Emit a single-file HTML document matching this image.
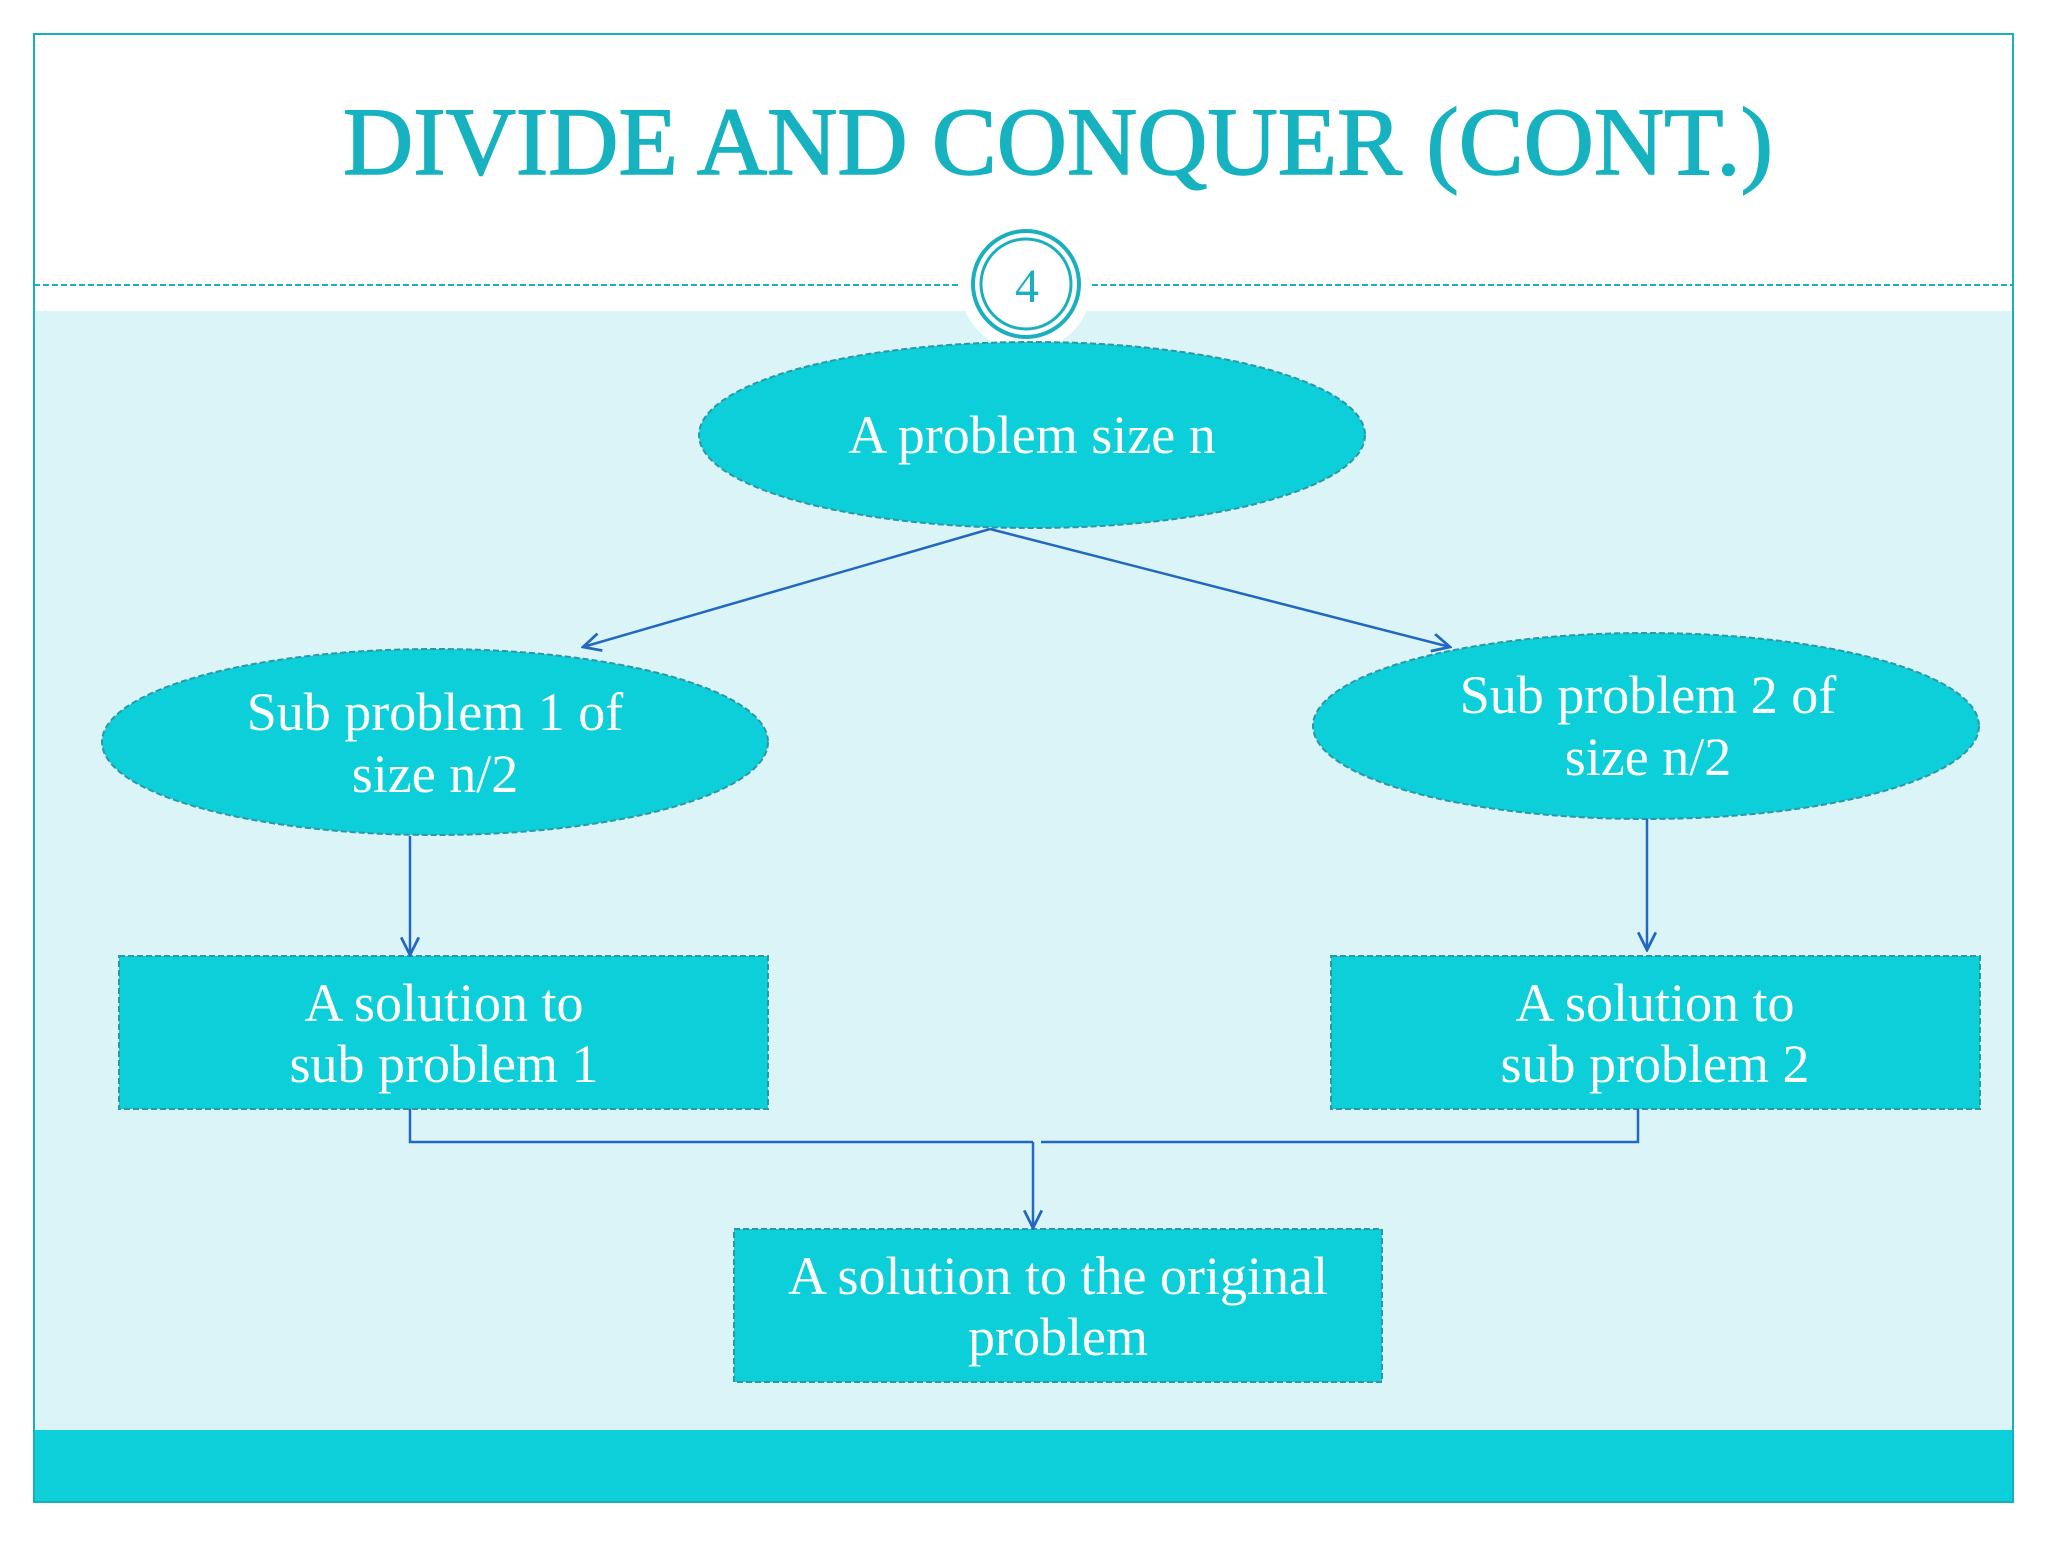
<!DOCTYPE html>
<html><head><meta charset="utf-8"><style>
html,body{margin:0;padding:0;background:#fff;}
body{width:2048px;height:1536px;overflow:hidden;}
</style></head><body>
<svg width="2048" height="1536" viewBox="0 0 2048 1536" xmlns="http://www.w3.org/2000/svg" font-family="'Liberation Serif', serif">
<defs>
<marker id="ah" viewBox="0 0 20 20" refX="18" refY="10" markerWidth="22" markerHeight="22" markerUnits="userSpaceOnUse" orient="auto">
<path d="M2,2 L18,10 L2,18" fill="none" stroke="#2268c0" stroke-width="2.5"/>
</marker>
</defs>
<rect x="0" y="0" width="2048" height="1536" fill="#fff"/>
<rect x="34" y="311" width="1979" height="1119" fill="#dbf4f8"/>
<rect x="34" y="1430" width="1979" height="72" fill="#0ccfd9"/>
<rect x="34" y="34" width="1979" height="1468" fill="none" stroke="#1aafbf" stroke-width="2"/>
<text x="1058" y="174" text-anchor="middle" font-size="96" fill="#17b2bf" stroke="#17b2bf" stroke-width="1.5" textLength="1430" lengthAdjust="spacingAndGlyphs">DIVIDE AND CONQUER (CONT.)</text>
<line x1="34" y1="285" x2="960" y2="285" stroke="#1aafbf" stroke-width="2" stroke-dasharray="6,3"/>
<line x1="1092" y1="285" x2="2013" y2="285" stroke="#1aafbf" stroke-width="2" stroke-dasharray="6,3"/>
<circle cx="1026" cy="285" r="66" fill="#fff"/>
<circle cx="1026" cy="284" r="53" fill="none" stroke="#1aafbf" stroke-width="4"/>
<circle cx="1026" cy="284" r="45" fill="none" stroke="#1aafbf" stroke-width="3"/>
<text x="1027" y="302" text-anchor="middle" font-size="48" fill="#1aafbf">4</text>
<g fill="#0ccfd9" stroke="#2a98a6" stroke-width="2" stroke-dasharray="6,3">
<ellipse cx="1032" cy="435" rx="333" ry="93"/>
<ellipse cx="435" cy="742" rx="333" ry="93"/>
<ellipse cx="1646" cy="726" rx="333" ry="93"/>
<rect x="119" y="956" width="649" height="153"/>
<rect x="1331" y="956" width="649" height="153"/>
<rect x="734" y="1229" width="648" height="153"/>
</g>
<g stroke="#2268c0" stroke-width="2.5" fill="none">
<line x1="990" y1="529" x2="583" y2="647" marker-end="url(#ah)"/>
<line x1="990" y1="529" x2="1450" y2="647" marker-end="url(#ah)"/>
<line x1="410" y1="836" x2="410" y2="955" marker-end="url(#ah)"/>
<line x1="1647" y1="819" x2="1647" y2="950" marker-end="url(#ah)"/>
<polyline points="410,1109 410,1142 1033,1142"/>
<polyline points="1638,1109 1638,1142 1041,1142"/>
<line x1="1033" y1="1142" x2="1033" y2="1228" marker-end="url(#ah)"/>
</g>
<g fill="#fff" font-size="54" text-anchor="middle">
<text x="1032" y="453">A problem size n</text>
<text x="435" y="730">Sub problem 1  of</text>
<text x="435" y="792">size n/2</text>
<text x="1648" y="713">Sub problem 2 of</text>
<text x="1648" y="775">size n/2</text>
<text x="444" y="1021">A solution to</text>
<text x="444" y="1082">sub problem 1</text>
<text x="1655" y="1021">A solution to</text>
<text x="1655" y="1082">sub problem 2</text>
<text x="1058" y="1294">A solution to the original</text>
<text x="1058" y="1355">problem</text>
</g>
</svg>
</body></html>
